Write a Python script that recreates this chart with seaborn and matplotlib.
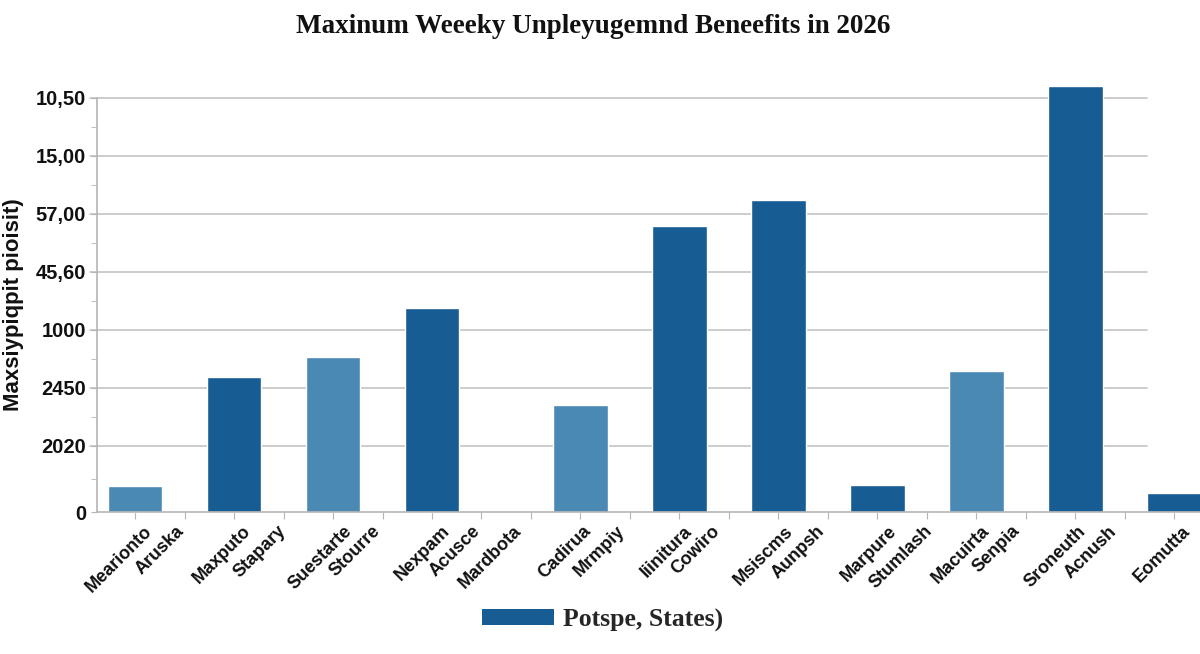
import seaborn as sns
import matplotlib.pyplot as plt
import pandas as pd
from matplotlib.patches import Patch

# Bar data (one bar per state pair)
states = ["Mearionto Aruska", "Maxputo Stapary", "Suestarte Stourre", "Nexpam Acusce",
          "Cadirua Mrmpiy", "Iiinitura Cowiro", "Msiscms Aunpsh", "Marpure Stumlash",
          "Macuirta Senpia", "Sroneuth Acnush", "Eomutta"]
benefits = [45, 233, 267, 352, 184, 493, 538, 47, 243, 734, 33]
tone = ["light", "dark", "light", "dark", "light", "dark", "dark", "dark",
        "light", "dark", "dark"]

# Axis text
x_labels = ["Mearionto", "Aruska", "Maxputo", "Stapary", "Suestarte", "Stourre",
            "Nexpam", "Acusce", "Mardbota", "Cadirua", "Mrmpiy", "Iiinitura", "Cowiro",
            "Msiscms", "Aunpsh", "Marpure", "Stumlash", "Macuirta", "Senpia",
            "Sroneuth", "Acnush", "Eomutta"]
y_ticks = [0, 114, 214, 314, 414, 514, 614, 714]
y_tick_labels = ["0", "2020", "2450", "1000", "45,60", "57,00", "15,00", "10,50"]

# Layout: empty slots after each bar, and where each rotated label ends (in slots)
gap_after = [1, 1, 1, 2, 1, 1, 1, 1, 1, 1, 0]
label_slots = [0.30, 0.93, 2.28, 2.99, 4.32, 4.91, 6.30, 6.93, 7.76, 9.17, 9.84,
               11.21, 11.76, 13.25, 13.88, 15.33, 16.06, 17.21, 17.82, 19.17,
               19.78, 21.27]

order = []
for i, (s, g) in enumerate(zip(states, gap_after)):
    order.append(s)
    order += [f"_gap{i}_{k}" for k in range(g)]

df = pd.DataFrame({"state": states, "benefit": benefits, "tone": tone})

dark = "#175c93"
light = "#4a89b4"

sns.set_style("white")
plt.rcParams['font.family'] = ['Liberation Sans', 'DejaVu Sans']

fig = plt.figure(figsize=(12, 6.54), dpi=100)
ax = fig.add_axes([97 / 1200, 142 / 654, 1103 / 1200, 414 / 654])

sns.barplot(data=df, x="state", y="benefit", hue="tone", order=order,
            palette={"dark": dark, "light": light}, width=1.1, dodge=False,
            legend=False, ax=ax, saturation=1)
for p in ax.patches:
    p.set_clip_on(False)

# gridlines stop short of the right edge
for y in y_ticks[1:]:
    ax.axhline(y, xmin=-0.006, xmax=0.952, color="#c4c4c4", lw=1.2, zorder=0,
               clip_on=False)

ax.set_yticks(y_ticks)
ax.set_yticklabels(y_tick_labels, fontsize=14.5, fontweight="bold", color="#111111")
ax.set_yticks([57] + [y + 50 for y in y_ticks[1:-1]], minor=True)
ax.tick_params(axis="y", which="both", length=4, color="#b5b5b5", pad=4, left=True)

ax.set_xticks(range(len(order)))
ax.set_xticklabels([])
ax.set_xticks(label_slots, minor=True)
ax.set_xticklabels(x_labels, minor=True, rotation=45, ha="right", va="center",
                   rotation_mode="anchor", fontsize=13, fontweight="bold",
                   color="#111111")
ax.tick_params(axis="x", which="major", length=5, color="#b5b5b5", bottom=True)
ax.tick_params(axis="x", which="minor", length=0, pad=12)

ax.set_xlim(-0.77, 21.52)
ax.set_ylim(0, 714)

for side in ["top", "right"]:
    ax.spines[side].set_visible(False)
for side in ["left", "bottom"]:
    ax.spines[side].set_color("#b5b5b5")
    ax.spines[side].set_linewidth(1.2)

ax.set_xlabel("")
ax.set_ylabel("Maxsiypiqpit pioisit)", fontsize=16, fontweight="bold",
              color="#111111")
ax.yaxis.set_label_coords(-0.066, 0.5)

fig.text(0.494, 0.96, "Maxinum Weeeky Unpleyugemnd Beneefits in 2026",
         ha="center", va="center", fontsize=19.5, fontweight="bold",
         family="Liberation Serif", color="#111111")

handle = Patch(facecolor=dark, edgecolor="none")
fig.legend([handle], ["Potspe, States)"], loc="center", bbox_to_anchor=(0.502, 0.052),
           frameon=False, handlelength=2.8, handleheight=0.55, handletextpad=0.35,
           prop={"family": "Liberation Serif", "weight": "bold", "size": 18.5})

fig.savefig("out.png", dpi=100)
